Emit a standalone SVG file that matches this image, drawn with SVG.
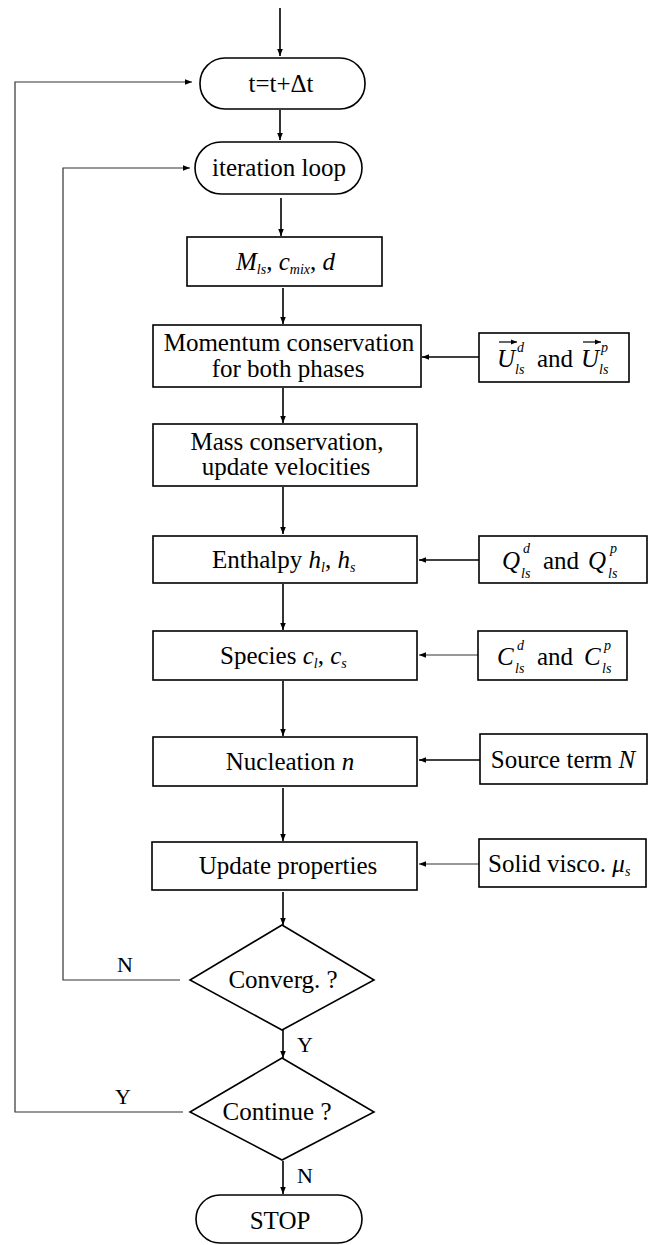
<svg xmlns="http://www.w3.org/2000/svg" width="654" height="1245" viewBox="0 0 654 1245">
<style>
text{font-family:"Liberation Serif","Times New Roman",serif;font-size:25px;fill:#000}
.c{text-anchor:middle}
.i{font-style:italic}
.s{font-size:14px;font-style:italic}
.lb{font-size:22px}
.box{fill:#fff;stroke:#000;stroke-width:1.6}
.ln{fill:none;stroke:#000;stroke-width:1.6}
.lt{fill:none;stroke:#333;stroke-width:1.2}
</style>
<defs>
<marker id="ah" viewBox="0 0 10 10" refX="10" refY="5" markerWidth="7" markerHeight="7" markerUnits="userSpaceOnUse" orient="auto">
<path d="M0,1 L10,5 L0,9 z" fill="#000"/>
</marker>
<marker id="va" viewBox="0 0 10 10" refX="10" refY="5" markerWidth="6" markerHeight="6" markerUnits="userSpaceOnUse" orient="auto">
<path d="M0,1 L10,5 L0,9 z" fill="#000"/>
</marker>
</defs>

<g id="connectors">
<line class="ln" x1="280" y1="8" x2="280" y2="56" marker-end="url(#ah)"/>
<line class="ln" x1="280" y1="110" x2="280" y2="140" marker-end="url(#ah)"/>
<line class="ln" x1="281" y1="198" x2="281" y2="236" marker-end="url(#ah)"/>
<line class="ln" x1="283" y1="288" x2="283" y2="324" marker-end="url(#ah)"/>
<line class="ln" x1="283" y1="388" x2="283" y2="423" marker-end="url(#ah)"/>
<line class="ln" x1="283" y1="487" x2="283" y2="534" marker-end="url(#ah)"/>
<line class="ln" x1="283" y1="584" x2="283" y2="630" marker-end="url(#ah)"/>
<line class="ln" x1="283" y1="681" x2="283" y2="736" marker-end="url(#ah)"/>
<line class="ln" x1="283" y1="788" x2="283" y2="841" marker-end="url(#ah)"/>
<line class="ln" x1="283" y1="892" x2="283" y2="925" marker-end="url(#ah)"/>
<line class="ln" x1="283" y1="1030" x2="283" y2="1058" marker-end="url(#ah)"/>
<line class="ln" x1="283" y1="1161" x2="283" y2="1194" marker-end="url(#ah)"/>
<line class="ln" x1="479" y1="357" x2="422" y2="357" marker-end="url(#ah)"/>
<line class="ln" x1="479" y1="560" x2="419" y2="560" marker-end="url(#ah)"/>
<line class="lt" x1="478" y1="655" x2="419" y2="655" marker-end="url(#ah)"/>
<line class="ln" x1="480" y1="760" x2="419" y2="760" marker-end="url(#ah)"/>
<line class="lt" x1="479" y1="864" x2="419" y2="864" marker-end="url(#ah)"/>
<polyline class="lt" points="180,980 63,980 63,168 190,168" marker-end="url(#ah)"/>
<polyline class="lt" points="183,1112 15,1112 15,82 192,82" marker-end="url(#ah)"/>
<text class="lb" x="117" y="972">N</text>
<text class="lb" x="297" y="1052">Y</text>
<text class="lb" x="115" y="1104">Y</text>
<text class="lb" x="297" y="1183">N</text>
</g>

<g id="start">
<rect class="box" x="200" y="58" width="165" height="51" rx="25"/>
<text class="c" x="281" y="92">t=t+Δt</text>
</g>

<g id="iteration">
<rect class="box" x="195" y="142" width="167" height="52" rx="26"/>
<text class="c" x="279" y="176">iteration loop</text>
</g>

<g id="mls">
<rect class="box" x="187" y="237" width="195" height="49"/>
<text x="236" y="270"><tspan class="i">M</tspan><tspan class="s" dy="4">ls</tspan><tspan dy="-4">, </tspan><tspan class="i">c</tspan><tspan class="s" dy="4">mix</tspan><tspan dy="-4">, </tspan><tspan class="i">d</tspan></text>
</g>

<g id="momentum">
<rect class="box" x="153" y="325" width="268" height="62"/>
<text class="c" x="289" y="351">Momentum conservation</text>
<text class="c" x="288" y="377">for both phases</text>
</g>

<g id="u-source">
<rect class="box" x="479" y="333" width="150" height="49"/>
<text x="497" y="367"><tspan class="i">U</tspan><tspan class="s" x="517" y="352">d</tspan><tspan class="s" x="515" y="374">ls</tspan><tspan x="537" y="367">and</tspan><tspan class="i" x="581" y="367">U</tspan><tspan class="s" x="601" y="352">p</tspan><tspan class="s" x="599" y="374">ls</tspan></text>
<line x1="499" y1="342" x2="517" y2="342" stroke="#000" stroke-width="1.2" marker-end="url(#va)"/>
<line x1="583" y1="342" x2="601" y2="342" stroke="#000" stroke-width="1.2" marker-end="url(#va)"/>
</g>

<g id="mass">
<rect class="box" x="153" y="424" width="264" height="62"/>
<text class="c" x="287" y="450">Mass conservation,</text>
<text class="c" x="286" y="475">update velocities</text>
</g>

<g id="enthalpy">
<rect class="box" x="153" y="536" width="264" height="47"/>
<text x="212" y="568">Enthalpy <tspan class="i">h</tspan><tspan class="s" dy="4">l</tspan><tspan dy="-4">, </tspan><tspan class="i">h</tspan><tspan class="s" dy="4">s</tspan></text>
</g>

<g id="q-source">
<rect class="box" x="479" y="536" width="168" height="47"/>
<text x="502" y="569"><tspan class="i">Q</tspan><tspan class="s" x="523" y="553">d</tspan><tspan class="s" x="521" y="578">ls</tspan><tspan x="543" y="569">and</tspan><tspan class="i" x="588" y="569">Q</tspan><tspan class="s" x="610" y="553">p</tspan><tspan class="s" x="608" y="578">ls</tspan></text>
</g>

<g id="species">
<rect class="box" x="153" y="631" width="264" height="49"/>
<text x="220" y="664">Species <tspan class="i">c</tspan><tspan class="s" dy="4">l</tspan><tspan dy="-4">, </tspan><tspan class="i">c</tspan><tspan class="s" dy="4">s</tspan></text>
</g>

<g id="c-source">
<rect class="box" x="478" y="631" width="149" height="49"/>
<text x="497" y="665"><tspan class="i">C</tspan><tspan class="s" x="517" y="650">d</tspan><tspan class="s" x="515" y="673">ls</tspan><tspan x="537" y="665">and</tspan><tspan class="i" x="584" y="665">C</tspan><tspan class="s" x="604" y="650">p</tspan><tspan class="s" x="602" y="673">ls</tspan></text>
</g>

<g id="nucleation">
<rect class="box" x="153" y="737" width="264" height="49"/>
<text class="c" x="290" y="770">Nucleation <tspan class="i">n</tspan></text>
</g>

<g id="n-source">
<rect class="box" x="480" y="734" width="167" height="50"/>
<text class="c" x="563" y="768">Source term <tspan class="i">N</tspan></text>
</g>

<g id="update">
<rect class="box" x="152" y="842" width="265" height="48"/>
<text class="c" x="288" y="874">Update properties</text>
</g>

<g id="visco">
<rect class="box" x="479" y="839" width="167" height="48"/>
<text x="488" y="872">Solid visco. <tspan class="i">μ</tspan><tspan class="s" dy="4">s</tspan></text>
</g>

<g id="converg">
<polygon class="box" points="282,925 374,980 282,1030 190,980"/>
<text class="c" x="283" y="988">Converg. ?</text>
</g>

<g id="continue">
<polygon class="box" points="282,1058 374,1112 282,1160 190,1112"/>
<text class="c" x="277" y="1120">Continue ?</text>
</g>

<g id="stop">
<rect class="box" x="196" y="1195" width="166" height="48" rx="24"/>
<text class="c" x="280" y="1229">STOP</text>
</g>
</svg>
